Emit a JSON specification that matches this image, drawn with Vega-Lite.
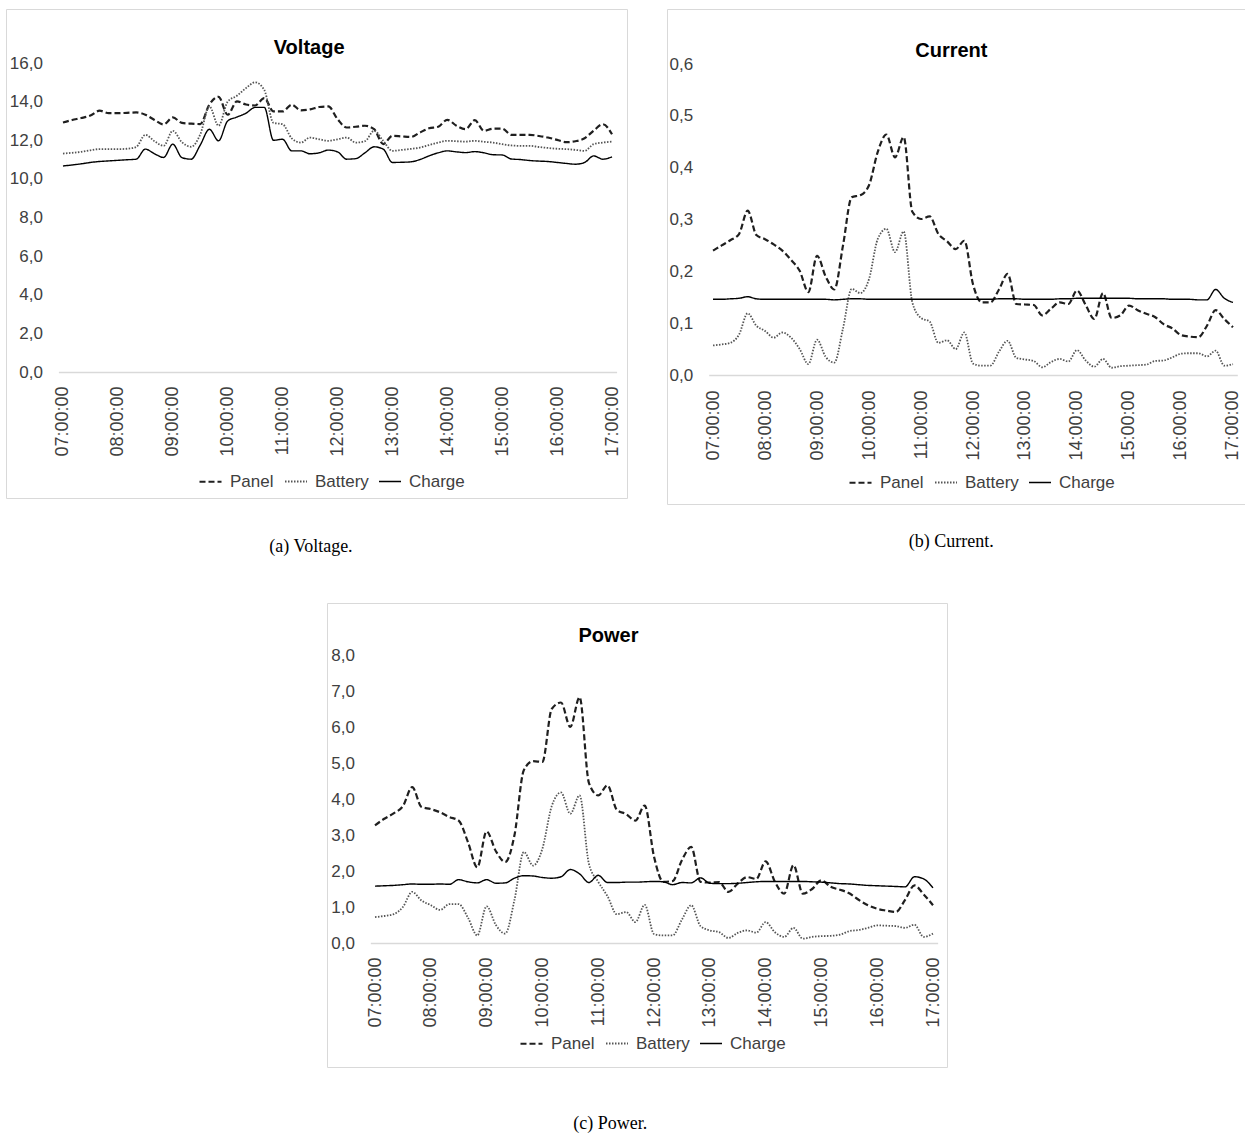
{
  "$schema": "https://vega.github.io/schema/vega-lite/v6.json",
  "padding": {"left": 5, "top": 8, "right": 0, "bottom": 10},
  "background": "white",
  "bounds": "full",
  "spacing": 45,
  "resolve": {"scale": {"color": "independent", "strokeDash": "independent", "strokeWidth": "independent"}, "legend": {"color": "independent", "strokeDash": "independent", "strokeWidth": "independent"}},
  "config": {
    "font": "Liberation Sans",
    "view": {"stroke": "#d9d9d9", "strokeWidth": 1},
    "axis": {"title": null, "grid": false, "ticks": false, "tickSize": 0, "labelFont": "Liberation Sans", "labelColor": "#404040", "labelFlush": false, "labelOverlap": false, "labelBound": false},
    "legend": {"title": null, "direction": "horizontal", "symbolType": "stroke", "symbolSize": 484, "labelFont": "Liberation Sans", "labelFontSize": 17, "labelColor": "#404040", "labelOffset": 7, "columnPadding": 7, "padding": 0, "symbolStrokeColor": "#000000"}
  },
  "datasets": {
    "voltage": [
      {"time": "07:00", "Panel": 12.92, "Battery": 11.31, "Charge": 10.67},
      {"time": "07:10", "Panel": 13.05, "Battery": 11.35, "Charge": 10.72},
      {"time": "07:20", "Panel": 13.15, "Battery": 11.40, "Charge": 10.78},
      {"time": "07:30", "Panel": 13.28, "Battery": 11.48, "Charge": 10.85},
      {"time": "07:40", "Panel": 13.53, "Battery": 11.54, "Charge": 10.90},
      {"time": "07:50", "Panel": 13.40, "Battery": 11.54, "Charge": 10.93},
      {"time": "08:00", "Panel": 13.40, "Battery": 11.54, "Charge": 10.96},
      {"time": "08:10", "Panel": 13.42, "Battery": 11.56, "Charge": 10.99},
      {"time": "08:20", "Panel": 13.44, "Battery": 11.65, "Charge": 11.02},
      {"time": "08:30", "Panel": 13.32, "Battery": 12.28, "Charge": 11.54},
      {"time": "08:40", "Panel": 13.05, "Battery": 11.95, "Charge": 11.30},
      {"time": "08:50", "Panel": 12.82, "Battery": 11.71, "Charge": 11.11},
      {"time": "09:00", "Panel": 13.18, "Battery": 12.49, "Charge": 11.80},
      {"time": "09:10", "Panel": 12.90, "Battery": 11.90, "Charge": 11.10},
      {"time": "09:20", "Panel": 12.86, "Battery": 11.66, "Charge": 11.02},
      {"time": "09:30", "Panel": 12.84, "Battery": 12.30, "Charge": 11.75},
      {"time": "09:40", "Panel": 13.85, "Battery": 13.75, "Charge": 12.57},
      {"time": "09:50", "Panel": 14.25, "Battery": 12.75, "Charge": 11.97},
      {"time": "10:00", "Panel": 13.32, "Battery": 14.00, "Charge": 13.00},
      {"time": "10:10", "Panel": 14.01, "Battery": 14.30, "Charge": 13.20},
      {"time": "10:20", "Panel": 13.85, "Battery": 14.70, "Charge": 13.40},
      {"time": "10:30", "Panel": 13.80, "Battery": 15.00, "Charge": 13.70},
      {"time": "10:40", "Panel": 14.18, "Battery": 14.60, "Charge": 13.70},
      {"time": "10:50", "Panel": 13.49, "Battery": 12.90, "Charge": 12.00},
      {"time": "11:00", "Panel": 13.49, "Battery": 12.83, "Charge": 12.05},
      {"time": "11:10", "Panel": 13.84, "Battery": 12.10, "Charge": 11.45},
      {"time": "11:20", "Panel": 13.55, "Battery": 11.88, "Charge": 11.45},
      {"time": "11:30", "Panel": 13.60, "Battery": 12.14, "Charge": 11.30},
      {"time": "11:40", "Panel": 13.72, "Battery": 12.05, "Charge": 11.35},
      {"time": "11:50", "Panel": 13.75, "Battery": 11.97, "Charge": 11.49},
      {"time": "12:00", "Panel": 13.10, "Battery": 12.05, "Charge": 11.40},
      {"time": "12:10", "Panel": 12.66, "Battery": 12.14, "Charge": 11.02},
      {"time": "12:20", "Panel": 12.70, "Battery": 11.88, "Charge": 11.05},
      {"time": "12:30", "Panel": 12.75, "Battery": 11.95, "Charge": 11.35},
      {"time": "12:40", "Panel": 12.57, "Battery": 12.49, "Charge": 11.66},
      {"time": "12:50", "Panel": 11.80, "Battery": 11.97, "Charge": 11.54},
      {"time": "13:00", "Panel": 12.23, "Battery": 11.45, "Charge": 10.85},
      {"time": "13:10", "Panel": 12.20, "Battery": 11.50, "Charge": 10.86},
      {"time": "13:20", "Panel": 12.17, "Battery": 11.55, "Charge": 10.88},
      {"time": "13:30", "Panel": 12.40, "Battery": 11.62, "Charge": 11.00},
      {"time": "13:40", "Panel": 12.62, "Battery": 11.75, "Charge": 11.19},
      {"time": "13:50", "Panel": 12.70, "Battery": 11.88, "Charge": 11.35},
      {"time": "14:00", "Panel": 13.06, "Battery": 11.97, "Charge": 11.45},
      {"time": "14:10", "Panel": 12.75, "Battery": 11.95, "Charge": 11.40},
      {"time": "14:20", "Panel": 12.57, "Battery": 11.93, "Charge": 11.36},
      {"time": "14:30", "Panel": 13.04, "Battery": 11.97, "Charge": 11.41},
      {"time": "14:40", "Panel": 12.49, "Battery": 11.92, "Charge": 11.35},
      {"time": "14:50", "Panel": 12.60, "Battery": 11.88, "Charge": 11.25},
      {"time": "15:00", "Panel": 12.60, "Battery": 11.80, "Charge": 11.24},
      {"time": "15:10", "Panel": 12.28, "Battery": 11.73, "Charge": 11.03},
      {"time": "15:20", "Panel": 12.28, "Battery": 11.71, "Charge": 11.00},
      {"time": "15:30", "Panel": 12.28, "Battery": 11.71, "Charge": 10.95},
      {"time": "15:40", "Panel": 12.22, "Battery": 11.65, "Charge": 10.92},
      {"time": "15:50", "Panel": 12.14, "Battery": 11.60, "Charge": 10.90},
      {"time": "16:00", "Panel": 12.02, "Battery": 11.56, "Charge": 10.85},
      {"time": "16:10", "Panel": 11.90, "Battery": 11.54, "Charge": 10.80},
      {"time": "16:20", "Panel": 11.95, "Battery": 11.50, "Charge": 10.76},
      {"time": "16:30", "Panel": 12.10, "Battery": 11.45, "Charge": 10.85},
      {"time": "16:40", "Panel": 12.50, "Battery": 11.80, "Charge": 11.19},
      {"time": "16:50", "Panel": 12.83, "Battery": 11.88, "Charge": 11.02},
      {"time": "17:00", "Panel": 12.31, "Battery": 11.93, "Charge": 11.14}
    ],
    "current": [
      {"time": "07:00", "Panel": 0.240, "Battery": 0.057, "Charge": 0.146},
      {"time": "07:10", "Panel": 0.250, "Battery": 0.059, "Charge": 0.146},
      {"time": "07:20", "Panel": 0.260, "Battery": 0.062, "Charge": 0.147},
      {"time": "07:30", "Panel": 0.272, "Battery": 0.078, "Charge": 0.148},
      {"time": "07:40", "Panel": 0.317, "Battery": 0.119, "Charge": 0.151},
      {"time": "07:50", "Panel": 0.270, "Battery": 0.095, "Charge": 0.147},
      {"time": "08:00", "Panel": 0.262, "Battery": 0.085, "Charge": 0.146},
      {"time": "08:10", "Panel": 0.252, "Battery": 0.072, "Charge": 0.146},
      {"time": "08:20", "Panel": 0.240, "Battery": 0.082, "Charge": 0.146},
      {"time": "08:30", "Panel": 0.222, "Battery": 0.072, "Charge": 0.146},
      {"time": "08:40", "Panel": 0.201, "Battery": 0.050, "Charge": 0.146},
      {"time": "08:50", "Panel": 0.160, "Battery": 0.021, "Charge": 0.146},
      {"time": "09:00", "Panel": 0.230, "Battery": 0.068, "Charge": 0.146},
      {"time": "09:10", "Panel": 0.190, "Battery": 0.035, "Charge": 0.146},
      {"time": "09:20", "Panel": 0.165, "Battery": 0.024, "Charge": 0.145},
      {"time": "09:30", "Panel": 0.250, "Battery": 0.090, "Charge": 0.146},
      {"time": "09:40", "Panel": 0.343, "Battery": 0.166, "Charge": 0.147},
      {"time": "09:50", "Panel": 0.347, "Battery": 0.158, "Charge": 0.147},
      {"time": "10:00", "Panel": 0.366, "Battery": 0.185, "Charge": 0.146},
      {"time": "10:10", "Panel": 0.430, "Battery": 0.262, "Charge": 0.146},
      {"time": "10:20", "Panel": 0.464, "Battery": 0.282, "Charge": 0.146},
      {"time": "10:30", "Panel": 0.420, "Battery": 0.237, "Charge": 0.146},
      {"time": "10:40", "Panel": 0.459, "Battery": 0.277, "Charge": 0.146},
      {"time": "10:50", "Panel": 0.315, "Battery": 0.140, "Charge": 0.146},
      {"time": "11:00", "Panel": 0.301, "Battery": 0.110, "Charge": 0.146},
      {"time": "11:10", "Panel": 0.306, "Battery": 0.103, "Charge": 0.146},
      {"time": "11:20", "Panel": 0.272, "Battery": 0.062, "Charge": 0.146},
      {"time": "11:30", "Panel": 0.258, "Battery": 0.067, "Charge": 0.146},
      {"time": "11:40", "Panel": 0.243, "Battery": 0.050, "Charge": 0.146},
      {"time": "11:50", "Panel": 0.259, "Battery": 0.082, "Charge": 0.146},
      {"time": "12:00", "Panel": 0.175, "Battery": 0.022, "Charge": 0.146},
      {"time": "12:10", "Panel": 0.140, "Battery": 0.018, "Charge": 0.146},
      {"time": "12:20", "Panel": 0.140, "Battery": 0.018, "Charge": 0.146},
      {"time": "12:30", "Panel": 0.165, "Battery": 0.045, "Charge": 0.147},
      {"time": "12:40", "Panel": 0.195, "Battery": 0.066, "Charge": 0.147},
      {"time": "12:50", "Panel": 0.137, "Battery": 0.033, "Charge": 0.147},
      {"time": "13:00", "Panel": 0.136, "Battery": 0.030, "Charge": 0.146},
      {"time": "13:10", "Panel": 0.135, "Battery": 0.027, "Charge": 0.146},
      {"time": "13:20", "Panel": 0.115, "Battery": 0.015, "Charge": 0.146},
      {"time": "13:30", "Panel": 0.128, "Battery": 0.025, "Charge": 0.146},
      {"time": "13:40", "Panel": 0.140, "Battery": 0.031, "Charge": 0.147},
      {"time": "13:50", "Panel": 0.137, "Battery": 0.026, "Charge": 0.147},
      {"time": "14:00", "Panel": 0.163, "Battery": 0.048, "Charge": 0.148},
      {"time": "14:10", "Panel": 0.135, "Battery": 0.028, "Charge": 0.148},
      {"time": "14:20", "Panel": 0.108, "Battery": 0.016, "Charge": 0.148},
      {"time": "14:30", "Panel": 0.158, "Battery": 0.031, "Charge": 0.148},
      {"time": "14:40", "Panel": 0.110, "Battery": 0.014, "Charge": 0.148},
      {"time": "14:50", "Panel": 0.115, "Battery": 0.017, "Charge": 0.148},
      {"time": "15:00", "Panel": 0.134, "Battery": 0.018, "Charge": 0.148},
      {"time": "15:10", "Panel": 0.125, "Battery": 0.019, "Charge": 0.147},
      {"time": "15:20", "Panel": 0.118, "Battery": 0.020, "Charge": 0.147},
      {"time": "15:30", "Panel": 0.112, "Battery": 0.027, "Charge": 0.147},
      {"time": "15:40", "Panel": 0.098, "Battery": 0.028, "Charge": 0.147},
      {"time": "15:50", "Panel": 0.090, "Battery": 0.034, "Charge": 0.146},
      {"time": "16:00", "Panel": 0.077, "Battery": 0.041, "Charge": 0.146},
      {"time": "16:10", "Panel": 0.074, "Battery": 0.042, "Charge": 0.146},
      {"time": "16:20", "Panel": 0.073, "Battery": 0.042, "Charge": 0.145},
      {"time": "16:30", "Panel": 0.095, "Battery": 0.036, "Charge": 0.145},
      {"time": "16:40", "Panel": 0.125, "Battery": 0.047, "Charge": 0.165},
      {"time": "16:50", "Panel": 0.108, "Battery": 0.018, "Charge": 0.148},
      {"time": "17:00", "Panel": 0.092, "Battery": 0.021, "Charge": 0.140}
    ],
    "power": [
      {"time": "07:00", "Panel": 3.27, "Battery": 0.72, "Charge": 1.58},
      {"time": "07:10", "Panel": 3.45, "Battery": 0.75, "Charge": 1.59},
      {"time": "07:20", "Panel": 3.60, "Battery": 0.80, "Charge": 1.60},
      {"time": "07:30", "Panel": 3.80, "Battery": 1.00, "Charge": 1.62},
      {"time": "07:40", "Panel": 4.33, "Battery": 1.42, "Charge": 1.64},
      {"time": "07:50", "Panel": 3.78, "Battery": 1.18, "Charge": 1.63},
      {"time": "08:00", "Panel": 3.72, "Battery": 1.05, "Charge": 1.63},
      {"time": "08:10", "Panel": 3.63, "Battery": 0.92, "Charge": 1.64},
      {"time": "08:20", "Panel": 3.50, "Battery": 1.08, "Charge": 1.63},
      {"time": "08:30", "Panel": 3.40, "Battery": 1.08, "Charge": 1.76},
      {"time": "08:40", "Panel": 2.80, "Battery": 0.70, "Charge": 1.70},
      {"time": "08:50", "Panel": 2.10, "Battery": 0.21, "Charge": 1.67},
      {"time": "09:00", "Panel": 3.10, "Battery": 1.02, "Charge": 1.76},
      {"time": "09:10", "Panel": 2.55, "Battery": 0.50, "Charge": 1.66},
      {"time": "09:20", "Panel": 2.25, "Battery": 0.26, "Charge": 1.67},
      {"time": "09:30", "Panel": 3.00, "Battery": 1.20, "Charge": 1.80},
      {"time": "09:40", "Panel": 4.80, "Battery": 2.53, "Charge": 1.87},
      {"time": "09:50", "Panel": 5.05, "Battery": 2.15, "Charge": 1.86},
      {"time": "10:00", "Panel": 5.03, "Battery": 2.62, "Charge": 1.82},
      {"time": "10:10", "Panel": 6.50, "Battery": 3.80, "Charge": 1.80},
      {"time": "10:20", "Panel": 6.68, "Battery": 4.18, "Charge": 1.84},
      {"time": "10:30", "Panel": 6.00, "Battery": 3.59, "Charge": 2.04},
      {"time": "10:40", "Panel": 6.83, "Battery": 4.10, "Charge": 1.92},
      {"time": "10:50", "Panel": 4.45, "Battery": 2.20, "Charge": 1.68},
      {"time": "11:00", "Panel": 4.10, "Battery": 1.70, "Charge": 1.88},
      {"time": "11:10", "Panel": 4.38, "Battery": 1.30, "Charge": 1.68},
      {"time": "11:20", "Panel": 3.70, "Battery": 0.80, "Charge": 1.68},
      {"time": "11:30", "Panel": 3.58, "Battery": 0.86, "Charge": 1.69},
      {"time": "11:40", "Panel": 3.40, "Battery": 0.58, "Charge": 1.69},
      {"time": "11:50", "Panel": 3.82, "Battery": 1.06, "Charge": 1.70},
      {"time": "12:00", "Panel": 2.40, "Battery": 0.25, "Charge": 1.71},
      {"time": "12:10", "Panel": 1.70, "Battery": 0.21, "Charge": 1.70},
      {"time": "12:20", "Panel": 1.72, "Battery": 0.21, "Charge": 1.62},
      {"time": "12:30", "Panel": 2.30, "Battery": 0.65, "Charge": 1.68},
      {"time": "12:40", "Panel": 2.67, "Battery": 1.05, "Charge": 1.67},
      {"time": "12:50", "Panel": 1.70, "Battery": 0.47, "Charge": 1.81},
      {"time": "13:00", "Panel": 1.68, "Battery": 0.35, "Charge": 1.66},
      {"time": "13:10", "Panel": 1.69, "Battery": 0.30, "Charge": 1.65},
      {"time": "13:20", "Panel": 1.42, "Battery": 0.14, "Charge": 1.65},
      {"time": "13:30", "Panel": 1.65, "Battery": 0.28, "Charge": 1.66},
      {"time": "13:40", "Panel": 1.83, "Battery": 0.35, "Charge": 1.68},
      {"time": "13:50", "Panel": 1.78, "Battery": 0.29, "Charge": 1.70},
      {"time": "14:00", "Panel": 2.27, "Battery": 0.58, "Charge": 1.71},
      {"time": "14:10", "Panel": 1.70, "Battery": 0.30, "Charge": 1.71},
      {"time": "14:20", "Panel": 1.37, "Battery": 0.17, "Charge": 1.71},
      {"time": "14:30", "Panel": 2.16, "Battery": 0.42, "Charge": 1.71},
      {"time": "14:40", "Panel": 1.37, "Battery": 0.12, "Charge": 1.71},
      {"time": "14:50", "Panel": 1.50, "Battery": 0.17, "Charge": 1.70},
      {"time": "15:00", "Panel": 1.74, "Battery": 0.19, "Charge": 1.69},
      {"time": "15:10", "Panel": 1.56, "Battery": 0.20, "Charge": 1.67},
      {"time": "15:20", "Panel": 1.48, "Battery": 0.23, "Charge": 1.65},
      {"time": "15:30", "Panel": 1.38, "Battery": 0.33, "Charge": 1.64},
      {"time": "15:40", "Panel": 1.20, "Battery": 0.36, "Charge": 1.62},
      {"time": "15:50", "Panel": 1.05, "Battery": 0.42, "Charge": 1.60},
      {"time": "16:00", "Panel": 0.95, "Battery": 0.49, "Charge": 1.59},
      {"time": "16:10", "Panel": 0.90, "Battery": 0.48, "Charge": 1.58},
      {"time": "16:20", "Panel": 0.86, "Battery": 0.47, "Charge": 1.57},
      {"time": "16:30", "Panel": 1.20, "Battery": 0.42, "Charge": 1.56},
      {"time": "16:40", "Panel": 1.60, "Battery": 0.51, "Charge": 1.84},
      {"time": "16:50", "Panel": 1.35, "Battery": 0.17, "Charge": 1.78},
      {"time": "17:00", "Panel": 1.05, "Battery": 0.26, "Charge": 1.53}
    ]
  },
  "vconcat": [
    {
      "hconcat": [
        {
          "width": 621,
          "height": 489,
          "layer": [
            {
              "data": {"name": "voltage", "format": {"parse": {"time": "date:'%H:%M'"}}},
              "transform": [{"fold": ["Panel", "Battery", "Charge"], "as": ["series", "value"]}],
              "mark": {"type": "line", "interpolate": "monotone"},
              "encoding": {
                "x": {"field": "time", "type": "temporal",
                  "scale": {"domain": [{"year": 1900, "month": 1, "date": 1, "hours": 6, "minutes": 55}, {"year": 1900, "month": 1, "date": 1, "hours": 17, "minutes": 5}], "range": [52.4, 610.6]},
                  "axis": {"values": [{"year": 1900, "month": 1, "date": 1, "hours": 7}, {"year": 1900, "month": 1, "date": 1, "hours": 8}, {"year": 1900, "month": 1, "date": 1, "hours": 9}, {"year": 1900, "month": 1, "date": 1, "hours": 10}, {"year": 1900, "month": 1, "date": 1, "hours": 11}, {"year": 1900, "month": 1, "date": 1, "hours": 12}, {"year": 1900, "month": 1, "date": 1, "hours": 13}, {"year": 1900, "month": 1, "date": 1, "hours": 14}, {"year": 1900, "month": 1, "date": 1, "hours": 15}, {"year": 1900, "month": 1, "date": 1, "hours": 16}, {"year": 1900, "month": 1, "date": 1, "hours": 17}],
                    "title": null, "format": "%H:%M:%S", "labelAngle": -90, "labelPadding": 14, "labelFontSize": 18, "domainColor": "#d9d9d9", "domainWidth": 1.5, "offset": -126}},
                "y": {"field": "value", "type": "quantitative",
                  "scale": {"domain": [0, 16], "range": [363, 54], "nice": false, "zero": false},
                  "axis": {"title": null, "values": [0, 2, 4, 6, 8, 10, 12, 14, 16], "labelExpr": "replace(format(datum.value, '.1f'), '.', ',')", "domain": false, "offset": -52.4, "labelPadding": 16, "labelFontSize": 17}},
                "color": {"field": "series", "type": "nominal", "scale": {"domain": ["Panel", "Battery", "Charge"], "range": ["#1f1f1f", "#555555", "#000000"]}, "legend": {"orient": "none", "legendX": 192, "legendY": 460, "direction": "horizontal", "title": null}},
                "strokeDash": {"field": "series", "type": "nominal", "scale": {"domain": ["Panel", "Battery", "Charge"], "range": [[6, 3], [1.5, 1.5], [1, 0]]}, "legend": {"orient": "none", "legendX": 192, "legendY": 460, "direction": "horizontal", "title": null}},
                "strokeWidth": {"field": "series", "type": "nominal", "scale": {"domain": ["Panel", "Battery", "Charge"], "range": [2.2, 1.4, 2.2]}, "legend": {"orient": "none", "legendX": 192, "legendY": 460, "direction": "horizontal", "title": null}}
              }
            },
            {
              "data": {"values": [{}]},
              "mark": {"type": "text", "text": "Voltage", "font": "Liberation Sans", "fontSize": 20, "fontWeight": "bold", "color": "#000000", "align": "center", "baseline": "middle"},
              "encoding": {
                "x": {"datum": {"year": 1900, "month": 1, "date": 1, "hours": 11, "minutes": 29}, "type": "temporal"},
                "y": {"datum": 16.79, "type": "quantitative"}
              }
            },
            {
              "data": {"values": [{}]},
              "mark": {"type": "text", "text": "(a) Voltage.", "font": "Liberation Serif", "fontSize": 18, "color": "#000000", "align": "center", "baseline": "middle"},
              "encoding": {
                "x": {"datum": {"year": 1900, "month": 1, "date": 1, "hours": 11, "minutes": 31}, "type": "temporal"},
                "y": {"datum": -9.07, "type": "quantitative"}
              }
            }
          ]
        },
        {
          "width": 579,
          "height": 495,
          "layer": [
            {
              "data": {"name": "current", "format": {"parse": {"time": "date:'%H:%M'"}}},
              "transform": [{"fold": ["Panel", "Battery", "Charge"], "as": ["series", "value"]}],
              "mark": {"type": "line", "interpolate": "monotone"},
              "encoding": {
                "x": {"field": "time", "type": "temporal",
                  "scale": {"domain": [{"year": 1900, "month": 1, "date": 1, "hours": 6, "minutes": 55}, {"year": 1900, "month": 1, "date": 1, "hours": 17, "minutes": 5}], "range": [41.7, 570.3]},
                  "axis": {"values": [{"year": 1900, "month": 1, "date": 1, "hours": 7}, {"year": 1900, "month": 1, "date": 1, "hours": 8}, {"year": 1900, "month": 1, "date": 1, "hours": 9}, {"year": 1900, "month": 1, "date": 1, "hours": 10}, {"year": 1900, "month": 1, "date": 1, "hours": 11}, {"year": 1900, "month": 1, "date": 1, "hours": 12}, {"year": 1900, "month": 1, "date": 1, "hours": 13}, {"year": 1900, "month": 1, "date": 1, "hours": 14}, {"year": 1900, "month": 1, "date": 1, "hours": 15}, {"year": 1900, "month": 1, "date": 1, "hours": 16}, {"year": 1900, "month": 1, "date": 1, "hours": 17}],
                    "title": null, "format": "%H:%M:%S", "labelAngle": -90, "labelPadding": 15, "labelFontSize": 18, "domainColor": "#d9d9d9", "domainWidth": 1.5, "offset": -129}},
                "y": {"field": "value", "type": "quantitative",
                  "scale": {"domain": [0, 0.6], "range": [366, 55], "nice": false, "zero": false},
                  "axis": {"title": null, "values": [0, 0.1, 0.2, 0.3, 0.4, 0.5, 0.6], "labelExpr": "replace(format(datum.value, '.1f'), '.', ',')", "domain": false, "offset": -41.7, "labelPadding": 16, "labelFontSize": 17}},
                "color": {"field": "series", "type": "nominal", "scale": {"domain": ["Panel", "Battery", "Charge"], "range": ["#1f1f1f", "#555555", "#000000"]}, "legend": {"orient": "none", "legendX": 181, "legendY": 461, "direction": "horizontal", "title": null}},
                "strokeDash": {"field": "series", "type": "nominal", "scale": {"domain": ["Panel", "Battery", "Charge"], "range": [[6, 3], [1.5, 1.5], [1, 0]]}, "legend": {"orient": "none", "legendX": 181, "legendY": 461, "direction": "horizontal", "title": null}},
                "strokeWidth": {"field": "series", "type": "nominal", "scale": {"domain": ["Panel", "Battery", "Charge"], "range": [2.2, 1.4, 2.2]}, "legend": {"orient": "none", "legendX": 181, "legendY": 461, "direction": "horizontal", "title": null}}
              }
            },
            {
              "data": {"values": [{}]},
              "mark": {"type": "text", "text": "Current", "font": "Liberation Sans", "fontSize": 20, "fontWeight": "bold", "color": "#000000", "align": "center", "baseline": "middle"},
              "encoding": {
                "x": {"datum": {"year": 1900, "month": 1, "date": 1, "hours": 11, "minutes": 35}, "type": "temporal"},
                "y": {"datum": 0.6255, "type": "quantitative"}
              }
            },
            {
              "data": {"values": [{}]},
              "mark": {"type": "text", "text": "(b) Current.", "font": "Liberation Serif", "fontSize": 18, "color": "#000000", "align": "center", "baseline": "middle"},
              "encoding": {
                "x": {"datum": {"year": 1900, "month": 1, "date": 1, "hours": 11, "minutes": 35}, "type": "temporal"},
                "y": {"datum": -0.3224, "type": "quantitative"}
              }
            }
          ]
        }
      ],
      "spacing": 40,
      "bounds": "flush",
      "resolve": {"scale": {"color": "independent", "strokeDash": "independent", "strokeWidth": "independent"}, "legend": {"color": "independent", "strokeDash": "independent", "strokeWidth": "independent"}}
    },
    {
      "hconcat": [
        {
          "width": 321,
          "height": 20,
          "data": {"values": [{}]},
          "mark": {"type": "point", "opacity": 0},
          "view": {"stroke": null}
        },
        {
          "width": 620,
          "height": 464,
          "layer": [
            {
              "data": {"name": "power", "format": {"parse": {"time": "date:'%H:%M'"}}},
              "transform": [{"fold": ["Panel", "Battery", "Charge"], "as": ["series", "value"]}],
              "mark": {"type": "line", "interpolate": "monotone"},
              "encoding": {
                "x": {"field": "time", "type": "temporal",
                  "scale": {"domain": [{"year": 1900, "month": 1, "date": 1, "hours": 6, "minutes": 55}, {"year": 1900, "month": 1, "date": 1, "hours": 17, "minutes": 5}], "range": [43.35, 610.65]},
                  "axis": {"values": [{"year": 1900, "month": 1, "date": 1, "hours": 7}, {"year": 1900, "month": 1, "date": 1, "hours": 8}, {"year": 1900, "month": 1, "date": 1, "hours": 9}, {"year": 1900, "month": 1, "date": 1, "hours": 10}, {"year": 1900, "month": 1, "date": 1, "hours": 11}, {"year": 1900, "month": 1, "date": 1, "hours": 12}, {"year": 1900, "month": 1, "date": 1, "hours": 13}, {"year": 1900, "month": 1, "date": 1, "hours": 14}, {"year": 1900, "month": 1, "date": 1, "hours": 15}, {"year": 1900, "month": 1, "date": 1, "hours": 16}, {"year": 1900, "month": 1, "date": 1, "hours": 17}],
                    "title": null, "format": "%H:%M:%S", "labelAngle": -90, "labelPadding": 14, "labelFontSize": 18, "domainColor": "#d9d9d9", "domainWidth": 1.5, "offset": -124}},
                "y": {"field": "value", "type": "quantitative",
                  "scale": {"domain": [0, 8], "range": [340, 52], "nice": false, "zero": false},
                  "axis": {"title": null, "values": [0, 1, 2, 3, 4, 5, 6, 7, 8], "labelExpr": "replace(format(datum.value, '.1f'), '.', ',')", "domain": false, "offset": -43.35, "labelPadding": 16, "labelFontSize": 17}},
                "color": {"field": "series", "type": "nominal", "scale": {"domain": ["Panel", "Battery", "Charge"], "range": ["#1f1f1f", "#555555", "#000000"]}, "legend": {"orient": "none", "legendX": 192, "legendY": 428, "direction": "horizontal", "title": null}},
                "strokeDash": {"field": "series", "type": "nominal", "scale": {"domain": ["Panel", "Battery", "Charge"], "range": [[6, 3], [1.5, 1.5], [1, 0]]}, "legend": {"orient": "none", "legendX": 192, "legendY": 428, "direction": "horizontal", "title": null}},
                "strokeWidth": {"field": "series", "type": "nominal", "scale": {"domain": ["Panel", "Battery", "Charge"], "range": [2.2, 1.4, 2.2]}, "legend": {"orient": "none", "legendX": 192, "legendY": 428, "direction": "horizontal", "title": null}}
              }
            },
            {
              "data": {"values": [{}]},
              "mark": {"type": "text", "text": "Power", "font": "Liberation Sans", "fontSize": 20, "fontWeight": "bold", "color": "#000000", "align": "center", "baseline": "middle"},
              "encoding": {
                "x": {"datum": {"year": 1900, "month": 1, "date": 1, "hours": 11, "minutes": 11}, "type": "temporal"},
                "y": {"datum": 8.53, "type": "quantitative"}
              }
            },
            {
              "data": {"values": [{}]},
              "mark": {"type": "text", "text": "(c) Power.", "font": "Liberation Serif", "fontSize": 18, "color": "#000000", "align": "center", "baseline": "middle"},
              "encoding": {
                "x": {"datum": {"year": 1900, "month": 1, "date": 1, "hours": 11, "minutes": 13}, "type": "temporal"},
                "y": {"datum": -5.03, "type": "quantitative"}
              }
            }
          ]
        }
      ],
      "spacing": 0,
      "bounds": "flush",
      "resolve": {"scale": {"color": "independent", "strokeDash": "independent", "strokeWidth": "independent"}, "legend": {"color": "independent", "strokeDash": "independent", "strokeWidth": "independent"}}
    }
  ]
}
